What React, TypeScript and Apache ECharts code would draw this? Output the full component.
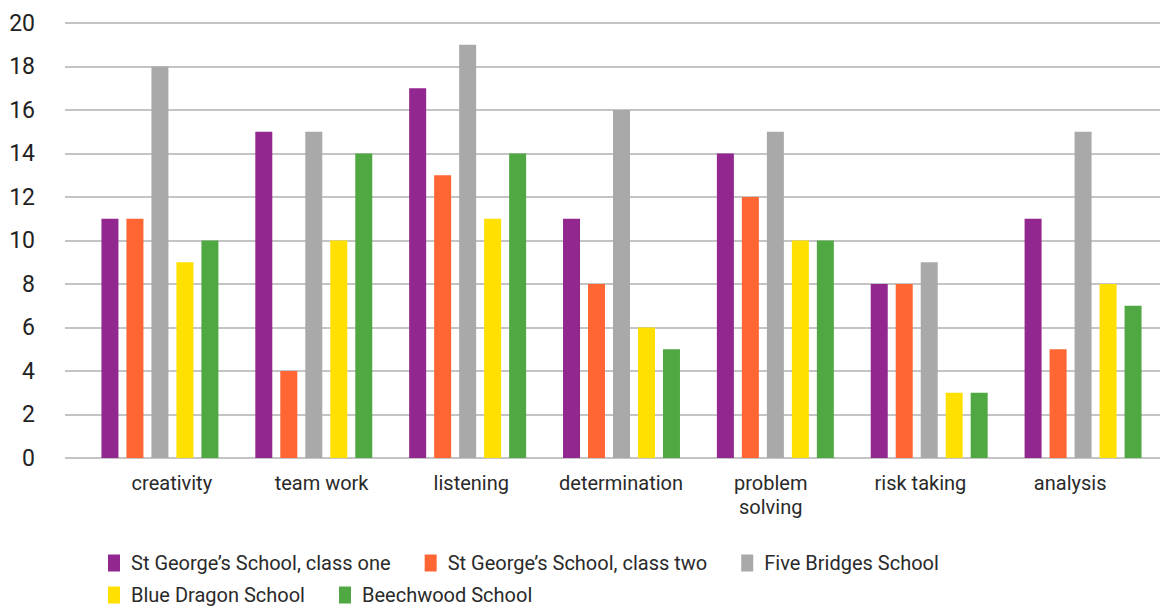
import React, { useEffect, useRef } from "react";
import * as echarts from "echarts";

const categories = ["creativity", "team work", "listening", "determination", "problem\nsolving", "risk taking", "analysis"];
const seriesNames = [
  "St George\u2019s School, class one",
  "St George\u2019s School, class two",
  "Five Bridges School",
  "Blue Dragon School",
  "Beechwood School",
];
const stGeorgeOne = [11, 15, 17, 11, 14, 8, 11];
const stGeorgeTwo = [11, 4, 13, 8, 12, 8, 5];
const fiveBridges = [18, 15, 19, 16, 15, 9, 15];
const blueDragon = [9, 10, 11, 6, 10, 3, 8];
const beechwood = [10, 14, 14, 5, 10, 3, 7];
const colors = ["#92278F", "#FF6633", "#A9A9A9", "#FFE000", "#50A842"];
const yTicks = { min: 0, max: 20, interval: 2 };

const FONT = "Roboto, 'Noto Sans', sans-serif";

export default function App() {
  const ref = useRef<HTMLDivElement>(null);
  useEffect(() => {
    if (!ref.current) return;
    const chart = echarts.init(ref.current, null, { renderer: "svg" });
    const values = [stGeorgeOne, stGeorgeTwo, fiveBridges, blueDragon, beechwood];
    const legendText = {
      fontFamily: FONT,
      fontSize: 20,
      lineHeight: 20,
      color: "#2a2a2a",
      padding: [0, 0, 0, 6],
    };
    chart.setOption({
      animation: false,
      color: colors,
      textStyle: { fontFamily: FONT },
      grid: [
        { left: 65, right: 2, top: 23, bottom: 151 },
        { left: 83, right: 2, top: 23, bottom: 151 },
        { left: 97, right: 17, top: 23, bottom: 151 },
      ],
      xAxis: [
        { type: "category", gridIndex: 0, data: categories, show: false },
        { type: "category", gridIndex: 1, data: categories, show: false },
        {
          type: "category",
          gridIndex: 2,
          data: categories,
          axisLine: { show: false },
          axisTick: { show: false },
          axisLabel: {
            margin: 13,
            fontSize: 20,
            lineHeight: 24,
            color: "#2a2a2a",
            fontFamily: FONT,
            interval: 0,
          },
        },
      ],
      yAxis: [
        {
          type: "value",
          gridIndex: 0,
          ...yTicks,
          axisLine: { show: false },
          axisTick: { show: false },
          axisLabel: { margin: 30, fontSize: 23, color: "#222", fontFamily: FONT },
          splitLine: { lineStyle: { color: "#B0B0B0", width: 1.5 } },
        },
        { type: "value", gridIndex: 1, ...yTicks, show: false, splitLine: { show: false } },
        { type: "value", gridIndex: 2, ...yTicks, show: false, splitLine: { show: false } },
      ],
      legend: [
        {
          left: 103,
          top: 548,
          icon: "rect",
          itemWidth: 12,
          itemHeight: 17,
          itemGap: 34,
          textStyle: legendText,
          data: seriesNames.slice(0, 3),
        },
        {
          left: 103,
          top: 580,
          icon: "rect",
          itemWidth: 12,
          itemHeight: 17,
          itemGap: 34,
          textStyle: legendText,
          data: seriesNames.slice(3),
        },
      ],
      series: values.map((d, i) => ({
        name: seriesNames[i],
        type: "bar",
        xAxisIndex: 1,
        yAxisIndex: 1,
        data: d,
        barWidth: 17,
        barGap: "47%",
        itemStyle: { color: colors[i] },
      })),
    });
    return () => chart.dispose();
  }, []);
  return <div ref={ref} style={{ width: 1162, height: 609, position: "absolute", left: 0, top: 0 }} />;
}
